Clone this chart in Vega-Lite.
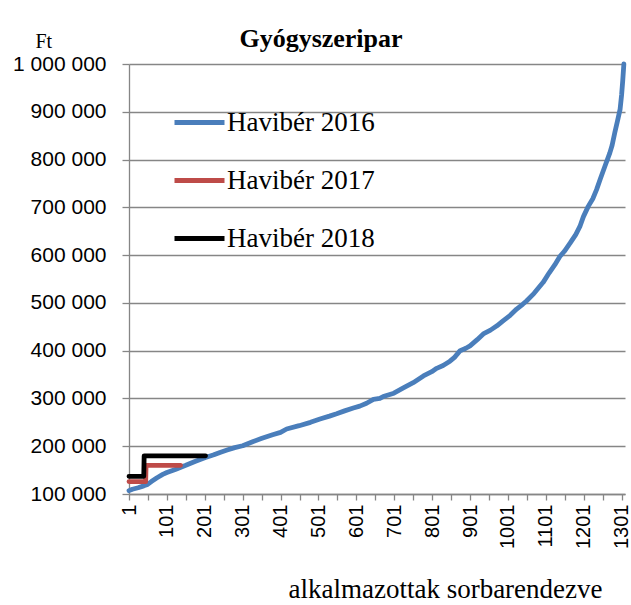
{
  "$schema": "https://vega.github.io/schema/vega-lite/v6.json",
  "width": 496,
  "height": 430,
  "autosize": {"type": "none"},
  "padding": {"left": 129, "top": 64, "right": 6, "bottom": 111},
  "background": "white",
  "config": {"view": {"stroke": null}},
  "title": {"text": "Gyógyszeripar", "font": "Liberation Serif", "fontSize": 26, "fontWeight": "bold", "color": "black", "anchor": "middle", "frame": "group", "dx": -56, "baseline": "alphabetic", "offset": -42},
  "data": {"values": [
    {"s": "Havibér 2016", "i": 1, "v": 107000},
    {"s": "Havibér 2016", "i": 10, "v": 110000},
    {"s": "Havibér 2016", "i": 25, "v": 113000},
    {"s": "Havibér 2016", "i": 40, "v": 117000},
    {"s": "Havibér 2016", "i": 50, "v": 120000},
    {"s": "Havibér 2016", "i": 60, "v": 126000},
    {"s": "Havibér 2016", "i": 75, "v": 134000},
    {"s": "Havibér 2016", "i": 90, "v": 141000},
    {"s": "Havibér 2016", "i": 101, "v": 145000},
    {"s": "Havibér 2016", "i": 125, "v": 152000},
    {"s": "Havibér 2016", "i": 151, "v": 160000},
    {"s": "Havibér 2016", "i": 175, "v": 168000},
    {"s": "Havibér 2016", "i": 201, "v": 176000},
    {"s": "Havibér 2016", "i": 225, "v": 182000},
    {"s": "Havibér 2016", "i": 241, "v": 187000},
    {"s": "Havibér 2016", "i": 260, "v": 192000},
    {"s": "Havibér 2016", "i": 280, "v": 197000},
    {"s": "Havibér 2016", "i": 301, "v": 201000},
    {"s": "Havibér 2016", "i": 329, "v": 210000},
    {"s": "Havibér 2016", "i": 350, "v": 216000},
    {"s": "Havibér 2016", "i": 380, "v": 224000},
    {"s": "Havibér 2016", "i": 401, "v": 229000},
    {"s": "Havibér 2016", "i": 417, "v": 236000},
    {"s": "Havibér 2016", "i": 450, "v": 243000},
    {"s": "Havibér 2016", "i": 480, "v": 250000},
    {"s": "Havibér 2016", "i": 505, "v": 257000},
    {"s": "Havibér 2016", "i": 530, "v": 263000},
    {"s": "Havibér 2016", "i": 549, "v": 268000},
    {"s": "Havibér 2016", "i": 570, "v": 274000},
    {"s": "Havibér 2016", "i": 593, "v": 280000},
    {"s": "Havibér 2016", "i": 610, "v": 284000},
    {"s": "Havibér 2016", "i": 628, "v": 290000},
    {"s": "Havibér 2016", "i": 646, "v": 298000},
    {"s": "Havibér 2016", "i": 663, "v": 300000},
    {"s": "Havibér 2016", "i": 672, "v": 304000},
    {"s": "Havibér 2016", "i": 700, "v": 311000},
    {"s": "Havibér 2016", "i": 725, "v": 322000},
    {"s": "Havibér 2016", "i": 751, "v": 333000},
    {"s": "Havibér 2016", "i": 778, "v": 347000},
    {"s": "Havibér 2016", "i": 800, "v": 356000},
    {"s": "Havibér 2016", "i": 813, "v": 363000},
    {"s": "Havibér 2016", "i": 830, "v": 369000},
    {"s": "Havibér 2016", "i": 848, "v": 378000},
    {"s": "Havibér 2016", "i": 860, "v": 386000},
    {"s": "Havibér 2016", "i": 875, "v": 400000},
    {"s": "Havibér 2016", "i": 890, "v": 405000},
    {"s": "Havibér 2016", "i": 901, "v": 410000},
    {"s": "Havibér 2016", "i": 920, "v": 423000},
    {"s": "Havibér 2016", "i": 936, "v": 435000},
    {"s": "Havibér 2016", "i": 955, "v": 443000},
    {"s": "Havibér 2016", "i": 972, "v": 452000},
    {"s": "Havibér 2016", "i": 989, "v": 463000},
    {"s": "Havibér 2016", "i": 1007, "v": 474000},
    {"s": "Havibér 2016", "i": 1024, "v": 487000},
    {"s": "Havibér 2016", "i": 1040, "v": 497000},
    {"s": "Havibér 2016", "i": 1050, "v": 504000},
    {"s": "Havibér 2016", "i": 1070, "v": 520000},
    {"s": "Havibér 2016", "i": 1094, "v": 543000},
    {"s": "Havibér 2016", "i": 1110, "v": 563000},
    {"s": "Havibér 2016", "i": 1125, "v": 580000},
    {"s": "Havibér 2016", "i": 1138, "v": 597000},
    {"s": "Havibér 2016", "i": 1150, "v": 608000},
    {"s": "Havibér 2016", "i": 1165, "v": 625000},
    {"s": "Havibér 2016", "i": 1180, "v": 643000},
    {"s": "Havibér 2016", "i": 1191, "v": 660000},
    {"s": "Havibér 2016", "i": 1200, "v": 680000},
    {"s": "Havibér 2016", "i": 1213, "v": 702000},
    {"s": "Havibér 2016", "i": 1225, "v": 718000},
    {"s": "Havibér 2016", "i": 1235, "v": 737000},
    {"s": "Havibér 2016", "i": 1245, "v": 760000},
    {"s": "Havibér 2016", "i": 1257, "v": 786000},
    {"s": "Havibér 2016", "i": 1270, "v": 814000},
    {"s": "Havibér 2016", "i": 1276, "v": 830000},
    {"s": "Havibér 2016", "i": 1283, "v": 856000},
    {"s": "Havibér 2016", "i": 1290, "v": 880000},
    {"s": "Havibér 2016", "i": 1297, "v": 905000},
    {"s": "Havibér 2016", "i": 1301, "v": 935000},
    {"s": "Havibér 2016", "i": 1304, "v": 965000},
    {"s": "Havibér 2016", "i": 1307, "v": 1000000},
    {"s": "Havibér 2017", "i": 1, "v": 126000},
    {"s": "Havibér 2017", "i": 45, "v": 126000},
    {"s": "Havibér 2017", "i": 46, "v": 160000},
    {"s": "Havibér 2017", "i": 137, "v": 160000},
    {"s": "Havibér 2018", "i": 1, "v": 137000},
    {"s": "Havibér 2018", "i": 40, "v": 137000},
    {"s": "Havibér 2018", "i": 41, "v": 180000},
    {"s": "Havibér 2018", "i": 203, "v": 180000}
  ]},
  "mark": {"type": "line", "strokeWidth": 4.8, "strokeCap": "round", "strokeJoin": "round"},
  "encoding": {
    "x": {
      "field": "i", "type": "quantitative",
      "scale": {"domain": [1, 1310], "nice": false, "zero": false},
      "axis": {
        "values": [1, 51, 101, 151, 201, 251, 301, 351, 401, 451, 501, 551, 601, 651, 701, 751, 801, 851, 901, 951, 1001, 1051, 1101, 1151, 1201, 1251, 1301],
        "labelExpr": "(datum.value - 1) % 100 == 0 ? '' + datum.value : ''",
        "labelAngle": -90,
        "labelFont": "Liberation Sans", "labelFontSize": 20, "labelColor": "black",
        "labelPadding": 4, "labelOverlap": false, "labelFlush": false, "labelBound": false,
        "tickSize": 6, "tickColor": "#868686", "tickWidth": 1.3,
        "domainColor": "#868686", "domainWidth": 1.3,
        "grid": false,
        "title": "alkalmazottak sorbarendezve",
        "titleFont": "Liberation Serif", "titleFontSize": 27, "titleFontWeight": "normal", "titleColor": "black",
        "titleX": 316, "titleY": 103, "titleAlign": "center", "titleBaseline": "alphabetic", "titleAnchor": null
      }
    },
    "y": {
      "field": "v", "type": "quantitative",
      "scale": {"domain": [100000, 1000000], "nice": false, "zero": false},
      "axis": {
        "values": [100000, 200000, 300000, 400000, 500000, 600000, 700000, 800000, 900000, 1000000],
        "labelExpr": "replace(format(datum.value, ','), regexp(',', 'g'), ' ')",
        "labelFont": "Liberation Sans", "labelFontSize": 21, "labelColor": "black",
        "labelPadding": 16, "labelOverlap": false, "labelFlush": false, "labelBound": false,
        "tickSize": 7, "tickColor": "#868686", "tickWidth": 1.3,
        "domainColor": "#868686", "domainWidth": 1.3,
        "grid": true, "gridColor": "#868686", "gridWidth": 1.3,
        "title": "Ft", "titleAngle": 0, "titleX": -94, "titleY": -17, "titleAlign": "left", "titleBaseline": "alphabetic",
        "titleFont": "Liberation Serif", "titleFontSize": 20, "titleFontWeight": "normal", "titleColor": "black"
      }
    },
    "color": {
      "field": "s", "type": "nominal",
      "scale": {"domain": ["Havibér 2016", "Havibér 2017", "Havibér 2018"], "range": ["#4A7EBB", "#BE4B48", "#000000"]},
      "legend": {
        "orient": "none", "legendX": 43, "legendY": 31, "title": null, "padding": 0,
        "symbolType": "stroke", "symbolSize": 2500, "symbolStrokeWidth": 4.8,
        "labelFont": "Liberation Serif", "labelFontSize": 27, "labelColor": "black",
        "labelOffset": 0, "rowPadding": 17, "labelLimit": 300
      }
    }
  }
}
